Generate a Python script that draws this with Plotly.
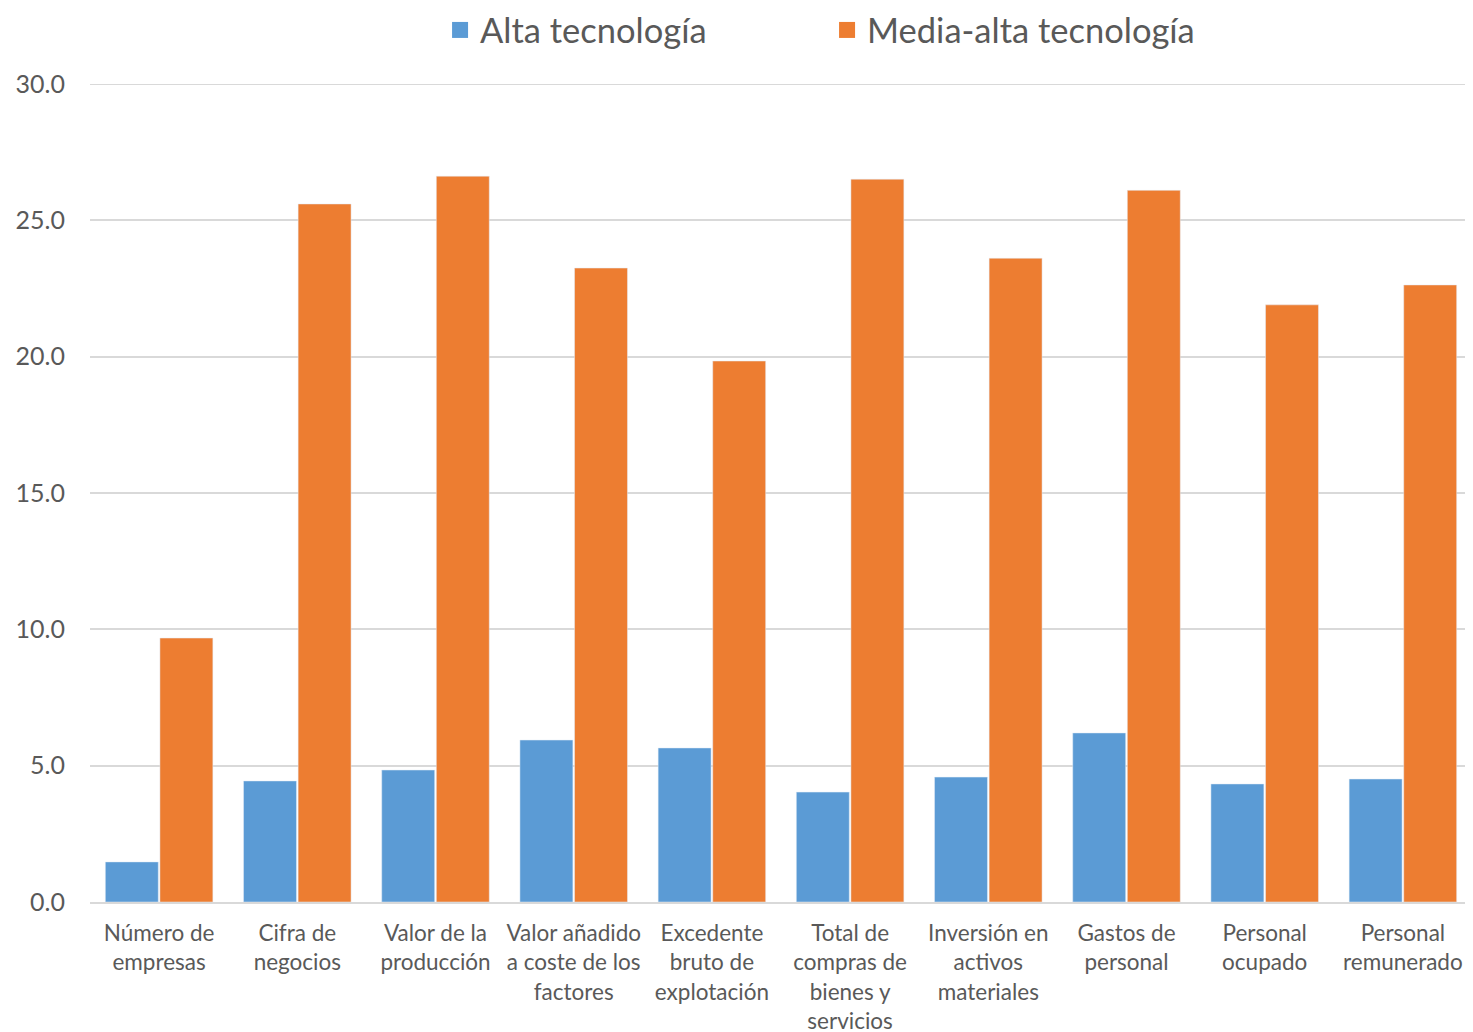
import plotly.graph_objects as go

categories = [
    "Número de<br>empresas", "Cifra de<br>negocios", "Valor de la<br>producción",
    "Valor añadido<br>a coste de los<br>factores", "Excedente<br>bruto de<br>explotación",
    "Total de<br>compras de<br>bienes y<br>servicios", "Inversión en<br>activos<br>materiales",
    "Gastos de<br>personal", "Personal<br>ocupado", "Personal<br>remunerado",
]
alta = [1.47, 4.44, 4.84, 5.94, 5.65, 4.03, 4.58, 6.20, 4.33, 4.51]
media_alta = [9.68, 25.60, 26.62, 23.25, 19.84, 26.51, 23.61, 26.10, 21.90, 22.63]
y_ticks = [0, 5, 10, 15, 20, 25, 30]

BLUE = "#5B9BD5"
ORANGE = "#ED7D31"
FONT = "Lato"
GREY = "#595959"
GRID = "#d9d9d9"

fig = go.Figure()
fig.add_trace(go.Bar(x=categories, y=alta, marker_color=BLUE, showlegend=False, name="Alta tecnología"))
fig.add_trace(go.Bar(x=categories, y=media_alta, marker_color=ORANGE, showlegend=False, name="Media-alta tecnología"))
# legend entries with larger square symbols
fig.add_trace(go.Scatter(x=[None], y=[None], mode="markers", name="Alta tecnología",
                         marker=dict(symbol="square", size=20, color=BLUE)))
fig.add_trace(go.Scatter(x=[None], y=[None], mode="markers", name="Media-alta tecnología",
                         marker=dict(symbol="square", size=20, color=ORANGE)))

# top gridline (plotly clips the gridline lying on the range edge)
fig.add_shape(type="line", xref="paper", x0=0, x1=1, yref="y", y0=y_ticks[-1], y1=y_ticks[-1],
              line=dict(color=GRID, width=2), layer="below")

fig.update_layout(
    width=1465, height=1024,
    margin=dict(l=82, r=1, t=76, b=130, autoexpand=False),
    paper_bgcolor="white", plot_bgcolor="white",
    barmode="group", bargap=0.21, bargroupgap=0.03,
    font=dict(family=FONT, color=GREY, size=22.5),
    legend=dict(orientation="h", x=0.2533, xanchor="left", y=0.9785, yanchor="middle",
                yref="container", font=dict(size=34.5, color=GREY),
                entrywidth=342, entrywidthmode="pixels", itemsizing="trace"),
    showlegend=True,
)
fig.update_xaxes(type="category", showline=True, linecolor=GRID, linewidth=2,
                 ticks="", tickfont=dict(size=22.5, color=GREY), showgrid=False,
                 ticklabelstandoff=10, automargin=False)
fig.update_yaxes(range=[0, 30], tickvals=y_ticks, tickformat=".1f", showgrid=True,
                 gridcolor=GRID, gridwidth=1.5, zeroline=False, showline=False,
                 tickfont=dict(size=25, color=GREY), ticks="", ticklabelstandoff=24,
                 automargin=False)

fig.write_html("out.html")
